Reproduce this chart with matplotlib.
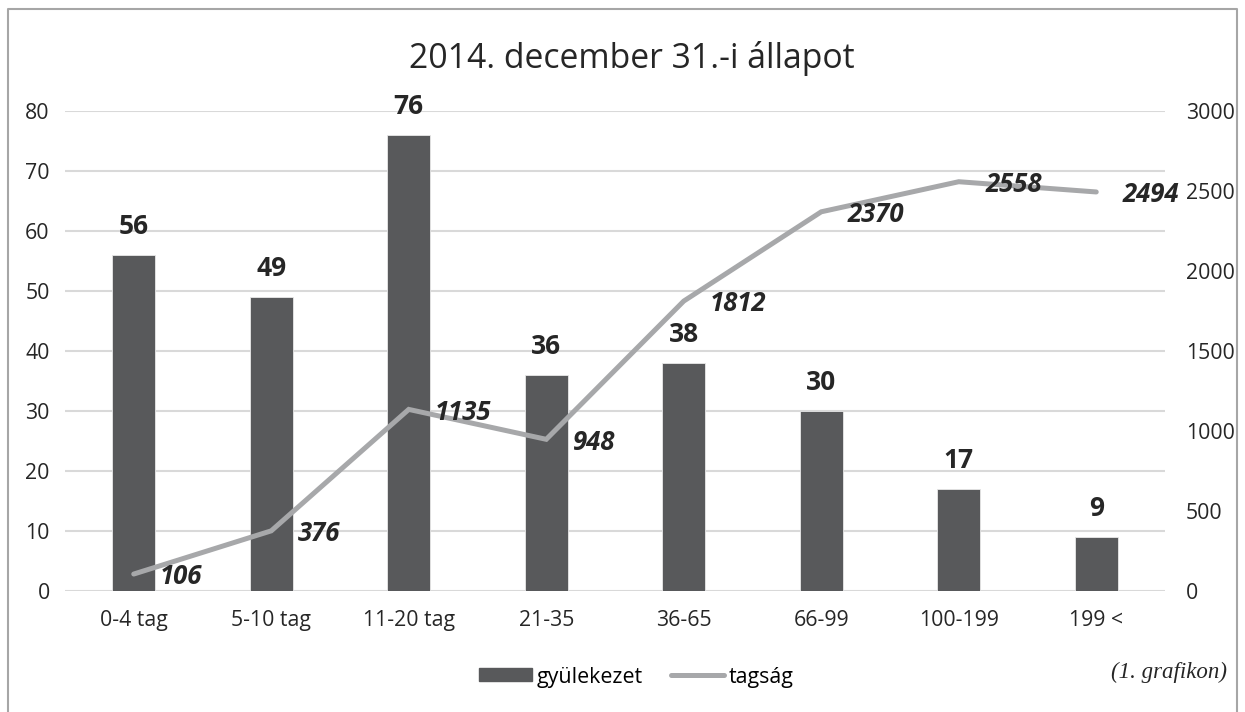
import numpy as np
import matplotlib.pyplot as plt
from matplotlib.lines import Line2D

plt.rcParams['font.family'] = ['Open Sans', 'DejaVu Sans']

# adatok
kategoriak = ['0-4 tag', '5-10 tag', '11-20 tag', '21-35', '36-65', '66-99', '100-199', '199 <']
gyulekezet = [56, 49, 76, 36, 38, 30, 17, 9]
tagsag = [106, 376, 1135, 948, 1812, 2370, 2558, 2494]

BAR_COLOR = '#58595b'
LINE_COLOR = '#a7a8aa'
GRID_COLOR = '#d9d9d9'
TEXT_COLOR = '#262626'

fig = plt.figure(figsize=(12.45, 7.12), dpi=100)
ax = fig.add_axes([65 / 1245, 121 / 712, 1100 / 1245, 480 / 712])
ax2 = ax.twinx()

x = np.arange(len(kategoriak))
ax.bar(x, gyulekezet, width=0.31, color=BAR_COLOR, edgecolor='#e8e8e8', linewidth=0.6, zorder=2)
for xi, v in zip(x, gyulekezet):
    ax.annotate(str(v), (xi, v), xytext=(0, 11), textcoords='offset points',
                ha='center', va='bottom', fontsize=19, fontweight='bold', color=TEXT_COLOR)

ax2.plot(x, tagsag, color=LINE_COLOR, linewidth=3.6, solid_capstyle='round', solid_joinstyle='miter', zorder=3)
for xi, v in zip(x, tagsag):
    ax2.annotate(str(v), (xi, v), xytext=(19, -2), textcoords='offset points',
                 ha='left', va='center', fontsize=18.5, fontweight='bold', fontstyle='italic',
                 color=TEXT_COLOR)

ax.set_xlim(-0.5, len(kategoriak) - 0.5)
ax.set_ylim(0, 80)
ax.set_yticks(range(0, 81, 10))
ax2.set_ylim(0, 3000)
ax2.set_yticks(range(0, 3001, 500))
ax.set_xticks(x)
ax.set_xticklabels(kategoriak)

ax.grid(axis='y', color=GRID_COLOR, linewidth=1.5, zorder=0)
ax.set_axisbelow(True)
for a in (ax, ax2):
    for s in a.spines.values():
        s.set_visible(False)
    a.tick_params(length=0, labelsize=15.3, colors=TEXT_COLOR)
ax.tick_params(axis='y', pad=11)
ax2.tick_params(axis='y', pad=15)
ax.tick_params(axis='x', pad=14)
ax.set_zorder(ax2.get_zorder() - 1)
ax.patch.set_visible(True)
ax2.patch.set_visible(False)

fig.text(632 / 1245, 1 - 58 / 712, '2014. december 31.-i állapot', ha='center', va='center',
         fontsize=24.3, color=TEXT_COLOR)

handles = [plt.Rectangle((0, 0), 1, 1, color=BAR_COLOR),
           Line2D([0], [0], color=LINE_COLOR, linewidth=3.6, solid_capstyle='round')]
fig.legend(handles, ['gyülekezet', 'tagság'], loc='center', bbox_to_anchor=(636 / 1245, 1 - 677 / 712),
           ncol=2, frameon=False, fontsize=15.4, handlelength=2.5, handletextpad=0.2,
           columnspacing=1.3, handleheight=0.55)

fig.text(1227 / 1245, 1 - 672 / 712, '(1. grafikon)', ha='right', va='center',
         fontsize=16.5, fontstyle='italic', family='Liberation Serif', color=TEXT_COLOR)

# keret
fig.add_artist(plt.Line2D([8 / 1245, 8 / 1245, 1237 / 1245, 1237 / 1245],
                          [0, 1 - 9 / 712, 1 - 9 / 712, 0],
                          transform=fig.transFigure, color='#a6a6a6', linewidth=1.5))

fig.savefig('out.png', dpi=100)
